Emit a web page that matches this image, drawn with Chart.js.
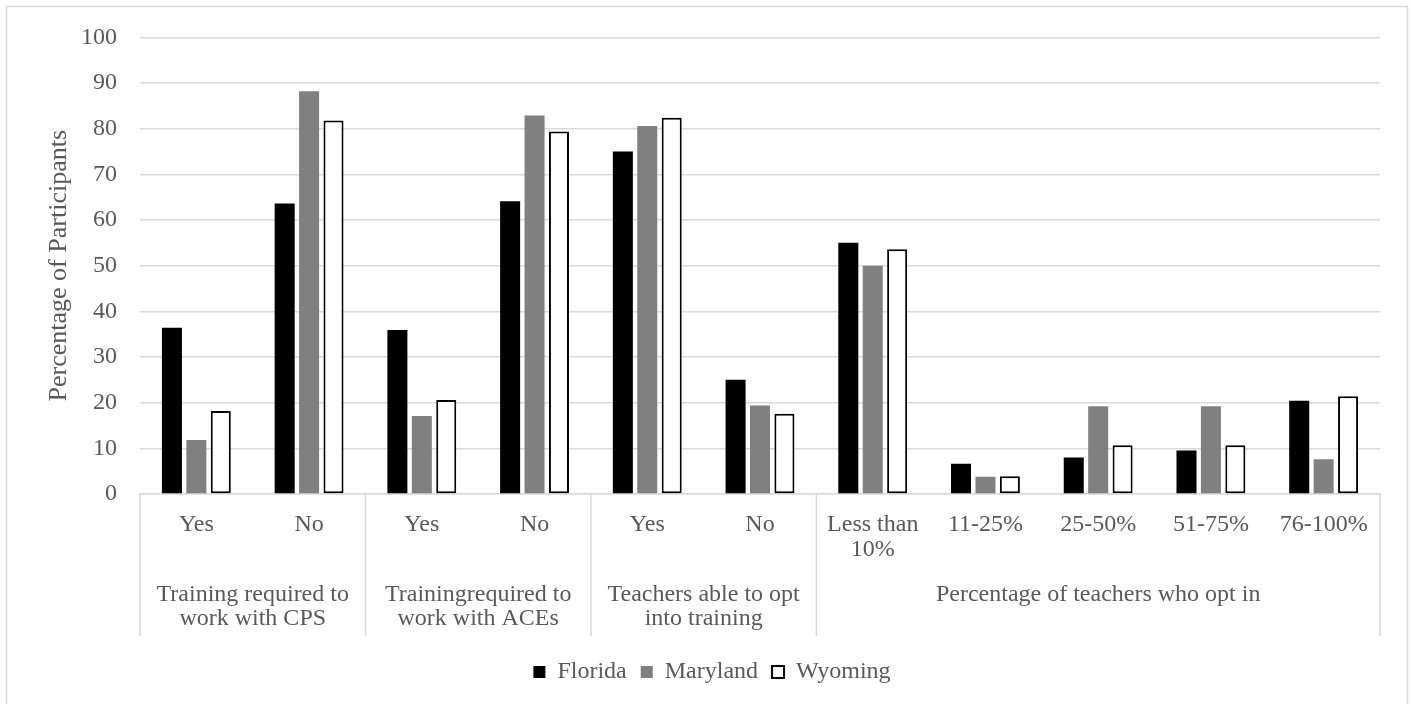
<!DOCTYPE html>
<html>
<head>
<meta charset="utf-8">
<script src="https://cdn.jsdelivr.net/npm/chart.js@4.4.1/dist/chart.umd.min.js"></script>
<style>
  html, body { margin: 0; padding: 0; background: #ffffff; }
  #wrap { width: 1411px; height: 704px; position: relative; }
</style>
</head>
<body>
<div id="wrap"><canvas id="c" width="1411" height="704"></canvas></div>
<script>
// ---- data ----
const categories = ['Yes', 'No', 'Yes', 'No', 'Yes', 'No', ['Less than', '10%'], '11-25%', '25-50%', '51-75%', '76-100%'];
const groupLabels = [
  ['Training required to', 'work with CPS'],
  ['Trainingrequired to', 'work with ACEs'],
  ['Teachers able to opt', 'into training'],
  ['Percentage of teachers who opt in']
];
const groupSizes = [2, 2, 2, 5];
const florida  = [36.4, 63.6, 35.9, 64.1, 75.0, 25.0, 55.0, 6.6, 8.0, 9.5, 20.4];
const maryland = [11.8, 88.2, 17.1, 82.9, 80.6, 19.4, 50.0, 3.8, 19.2, 19.2, 7.6];
const wyoming  = [18.2, 81.8, 20.6, 79.4, 82.4, 17.6, 53.6, 3.9, 10.7, 10.7, 21.4];
const yTicks = [0, 10, 20, 30, 40, 50, 60, 70, 80, 90, 100];

const FONT = '"Liberation Serif", "Times New Roman", serif';
const TEXT = '#595959';
const GRID = '#d9d9d9';

const groupPlugin = {
  id: 'groups',
  beforeDraw(chart) {
    const ctx = chart.ctx;
    ctx.save();
    ctx.fillStyle = '#ffffff';
    ctx.fillRect(0, 0, chart.width, chart.height);
    ctx.strokeStyle = GRID;
    ctx.lineWidth = 1.5;
    ctx.beginPath();
    ctx.moveTo(6.5, chart.height + 2);
    ctx.lineTo(6.5, 6.5);
    ctx.lineTo(1407.5, 6.5);
    ctx.lineTo(1407.5, chart.height + 2);
    ctx.stroke();
    ctx.restore();
  },
  afterDraw(chart) {
    const ctx = chart.ctx;
    const x = chart.scales.x;
    const area = chart.chartArea;
    const half = (x.getPixelForValue(1) - x.getPixelForValue(0)) / 2;
    ctx.save();
    ctx.strokeStyle = GRID;
    ctx.lineWidth = 1.5;
    const lineBottom = area.bottom + 142;
    let idx = 0;
    const bounds = [x.getPixelForValue(0) - half];
    groupSizes.forEach(s => { idx += s; bounds.push(x.getPixelForValue(idx - 1) + half); });
    ctx.beginPath();
    bounds.forEach(b => { ctx.moveTo(b, area.bottom); ctx.lineTo(b, lineBottom); });
    ctx.stroke();
    ctx.fillStyle = TEXT;
    ctx.font = '24px ' + FONT;
    ctx.textAlign = 'center';
    ctx.textBaseline = 'middle';
    idx = 0;
    groupSizes.forEach((s, g) => {
      const cx = (x.getPixelForValue(idx) + x.getPixelForValue(idx + s - 1)) / 2;
      groupLabels[g].forEach((line, li) => {
        ctx.fillText(line, cx, area.bottom + 101 + li * 24);
      });
      idx += s;
    });
    ctx.restore();
  }
};

new Chart(document.getElementById('c'), {
  type: 'bar',
  data: {
    labels: categories,
    datasets: [
      { label: 'Florida', data: florida, backgroundColor: '#000000', borderWidth: 0 },
      { label: 'Maryland', data: maryland, backgroundColor: '#808080', borderWidth: 0 },
      { label: 'Wyoming', data: wyoming, backgroundColor: '#ffffff', borderColor: '#000000', borderWidth: 2, borderSkipped: false }
    ]
  },
  plugins: [groupPlugin],
  options: {
    responsive: false,
    animation: false,
    devicePixelRatio: 1,
    datasets: { bar: { categoryPercentage: 0.65, barPercentage: 0.82 } },
    layout: { autoPadding: false, padding: { left: 44, right: 31, top: 35, bottom: 10 } },
    plugins: {
      tooltip: { enabled: false },
      legend: {
        position: 'bottom',
        labels: {
          font: { family: FONT, size: 24 },
          color: TEXT,
          boxWidth: 12,
          boxHeight: 12,
          padding: 14,
          generateLabels(chart) {
            return chart.data.datasets.map((d, i) => ({
              text: d.label,
              fillStyle: d.backgroundColor,
              strokeStyle: '#000000',
              lineWidth: i === 2 ? 2 : 0,
              hidden: false,
              datasetIndex: i,
              fontColor: TEXT
            }));
          }
        }
      }
    },
    scales: {
      x: {
        grid: { display: false, drawTicks: false },
        border: { display: true, color: GRID, width: 1.5 },
        ticks: {
          font: { family: FONT, size: 24, lineHeight: 1.05 },
          color: TEXT,
          maxRotation: 0,
          autoSkip: false,
          padding: 18
        },
        afterFit(scale) { scale.height = 152; }
      },
      y: {
        min: 0,
        max: 100,
        afterBuildTicks(scale) { scale.ticks = yTicks.map(v => ({ value: v })); },
        grid: { color: GRID, lineWidth: 1.5, drawTicks: false },
        border: { display: false },
        ticks: {
          font: { family: FONT, size: 24 },
          color: TEXT,
          padding: 23
        },
        title: {
          display: true,
          text: 'Percentage of Participants',
          font: { family: FONT, size: 26 },
          color: TEXT,
          padding: { top: 0, bottom: 0 }
        },
        afterFit(scale) { scale.width = 96; }
      }
    }
  }
});
</script>
</body>
</html>
